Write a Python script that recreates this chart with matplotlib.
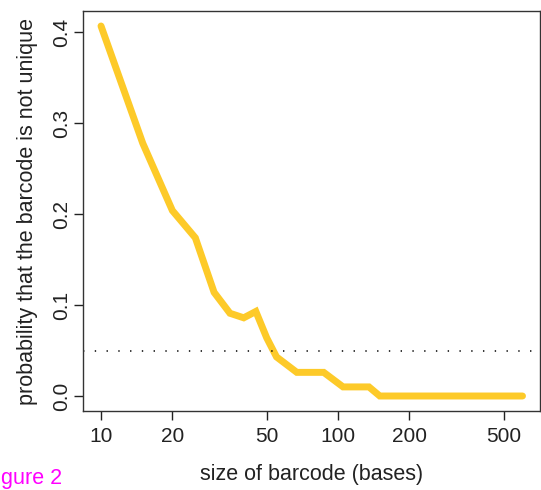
import matplotlib
matplotlib.use("Agg")
import matplotlib.pyplot as plt

plt.rcParams['font.family'] = ['Liberation Sans', 'DejaVu Sans']

# barcode size (bases) vs probability that it is not unique
size = [10, 15, 20, 25, 30, 35, 40, 45, 50, 55, 67, 87, 105, 135, 150, 600]
prob = [0.407, 0.278, 0.204, 0.174, 0.114, 0.091, 0.086, 0.093, 0.064, 0.043,
        0.026, 0.026, 0.010, 0.010, 0.0, 0.0]
threshold = 0.05

xticks = [10, 20, 50, 100, 200, 500]
yticks = [0.0, 0.1, 0.2, 0.3, 0.4]

fig = plt.figure(figsize=(5.41, 4.9), dpi=100)
ax = fig.add_axes([83/541, 79/490, 457/541, 400/490])

ax.plot(size, prob, color='#FDCA29', lw=5, solid_capstyle='round', solid_joinstyle='miter')
ax.axhline(threshold, color='black', lw=1.1, dashes=(0.9, 6.8))

ax.set_xscale('log')
ax.set_xlim(10**0.924, 10**2.852)
ax.set_ylim(-0.0165, 0.4235)
ax.set_xticks(xticks)
ax.set_xticklabels([str(t) for t in xticks])
ax.minorticks_off()
ax.set_yticks(yticks)
ax.set_yticklabels(['%.1f' % t for t in yticks], rotation=90, va='center')

ax.tick_params(axis='both', length=6.5, width=1, color='#222222', labelsize=15,
               labelcolor='#222222')
ax.tick_params(axis='x', pad=5)
ax.tick_params(axis='y', pad=2)
for s in ax.spines.values():
    s.set_linewidth(1)
    s.set_color('#333333')

ax.set_xlabel('size of barcode (bases)', fontsize=15.5, color='#222222', labelpad=13)
ax.set_ylabel('probability that the barcode is not unique', fontsize=15.5,
              color='#222222', labelpad=10)

# the caption is cropped at the left edge in the source image
fig.text(1/541, 1 - 484/490, 'gure 2', color='#FF00FF', fontsize=15.5, ha='left')

fig.savefig('out.png', dpi=100)
